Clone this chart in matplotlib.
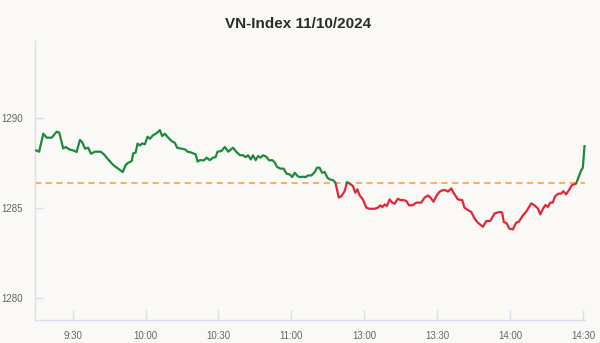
import numpy as np
import matplotlib
matplotlib.use('Agg')
import matplotlib.pyplot as plt
from matplotlib.patches import Rectangle

# session minutes since 9:15 (lunch 11:30-13:00 removed)
minutes = [0, 1.2, 2.9, 4.3, 6.4, 8.4, 9.5, 11.1, 12.1, 13.6, 15.9, 16.6,
           18.0, 18.9, 20.1, 21.4, 22.5, 24.2, 26.5, 27.9, 29.6, 31.7, 33.7,
           35.6, 36.8, 37.9, 39.3, 39.9, 40.9, 41.7, 42.7, 43.6, 44.7, 45.8,
           46.8, 48.1, 49.5, 50.9, 51.8, 52.9, 54.3, 55.7, 57.0, 58.0, 59.8,
           61.2, 62.3, 63.9, 65.6, 66.4, 67.3, 69.0, 70.1, 71.4, 72.8, 73.8,
           74.6, 76.2, 77.6, 79.0, 80.1, 81.0, 82.4, 83.8, 85.1, 86.2, 87.2,
           88.3, 89.2, 90.3, 91.3, 92.3, 93.3, 94.7, 95.8, 97.2, 98.2, 99.1,
           100.5, 101.8, 103.0, 104.3, 105.3, 106.4, 107.5, 108.4, 109.8,
           110.9, 111.8, 113.2, 114.6, 115.5, 116.6, 117.6, 118.7, 119.8,
           120.8, 122.1, 123.1, 124.5, 125.6, 126.9, 127.9, 129.0, 130.3,
           131.3, 132.1, 133.1, 134.4, 135.8, 137.2, 139.2, 140.6, 141.6,
           142.4, 143.4, 144.3, 145.4, 146.5, 147.5, 148.8, 149.9, 151.3,
           152.3, 153.4, 154.8, 156.4, 158.4, 159.8, 161.2, 162.2, 163.5,
           164.6, 166.0, 167.3, 168.7, 169.4, 170.8, 171.7, 173.5, 175.3,
           176.2, 177.6, 179.0, 180.4, 181.7, 183.8, 185.2, 186.8, 188.6,
           190.6, 191.7, 192.4, 193.5, 194.7, 196.1, 197.5, 198.6, 200.0,
           201.6, 203.7, 205.0, 206.4, 207.4, 208.4, 209.5, 210.5, 211.5,
           212.5, 213.5, 214.9, 216.0, 216.9, 218.0, 219.4, 220.5, 222.1,
           223.1, 224.2, 224.9, 225.6]
price = [1288.18, 1288.11, 1289.11, 1288.89, 1288.89, 1289.22, 1289.17,
         1288.29, 1288.37, 1288.24, 1288.15, 1288.09, 1288.76, 1288.64,
         1288.28, 1288.33, 1288.00, 1288.11, 1288.11, 1287.96, 1287.68,
         1287.37, 1287.17, 1286.98, 1287.37, 1287.50, 1287.59, 1288.02,
         1288.06, 1288.56, 1288.46, 1288.57, 1288.52, 1288.94, 1288.83,
         1289.03, 1289.13, 1289.31, 1288.98, 1289.11, 1288.89, 1288.70,
         1288.61, 1288.33, 1288.28, 1288.24, 1288.11, 1288.06, 1287.96,
         1287.56, 1287.64, 1287.63, 1287.78, 1287.64, 1287.78, 1287.81,
         1288.11, 1288.15, 1288.37, 1288.11, 1288.24, 1288.33, 1288.09,
         1287.92, 1287.91, 1287.81, 1287.91, 1287.68, 1287.91, 1287.64,
         1287.87, 1287.78, 1287.91, 1287.83, 1287.63, 1287.64, 1287.50,
         1287.26, 1287.17, 1287.17, 1286.89, 1286.85, 1286.70, 1286.94,
         1286.76, 1286.70, 1286.72, 1286.70, 1286.79, 1286.79, 1286.98,
         1287.22, 1287.22, 1286.94, 1286.98, 1286.67, 1286.57, 1286.53,
         1286.39, 1285.56, 1285.64, 1285.92, 1286.42, 1286.33, 1286.20,
         1285.83, 1286.02, 1285.68, 1285.46, 1285.00, 1284.94, 1284.94,
         1285.00, 1285.13, 1285.03, 1285.18, 1285.09, 1285.46, 1285.28,
         1285.22, 1285.50, 1285.42, 1285.42, 1285.37, 1285.13, 1285.13,
         1285.28, 1285.28, 1285.56, 1285.68, 1285.56, 1285.33, 1285.64,
         1285.89, 1285.98, 1285.96, 1285.89, 1286.07, 1285.83, 1285.46,
         1285.42, 1285.00, 1284.87, 1284.76, 1284.39, 1284.17, 1283.94,
         1284.26, 1284.26, 1284.68, 1284.76, 1284.74, 1284.20, 1284.15,
         1283.83, 1283.79, 1284.17, 1284.22, 1284.53, 1284.78, 1285.24,
         1285.13, 1284.96, 1284.63, 1284.91, 1285.15, 1285.04, 1285.28,
         1285.28, 1285.64, 1285.78, 1285.78, 1285.92, 1285.74, 1286.02,
         1286.26, 1286.33, 1286.67, 1287.07, 1287.22, 1288.42]
ref_price = 1286.39

tick_pos = [15, 45, 75, 105, 135, 165, 195, 225]
tick_labels = ['9:30', '10:00', '10:30', '11:00', '13:00', '13:30', '14:00', '14:30']
y_ticks = [1280, 1285, 1290]

BG = '#faf9f6'
AXIS = '#d9dfef'
GREEN = '#1b8a3c'
RED = '#e2263a'
ORANGE = '#f39c3c'

plt.rcParams['font.family'] = ['Liberation Sans', 'DejaVu Sans']

fig = plt.figure(figsize=(6, 3.43), dpi=100)
fig.patch.set_facecolor(BG)
ax = fig.add_axes([35/600, 23/343, 550/600, 279/343])
ax.set_facecolor(BG)

x_lo, x_hi = -0.5, 225.8
y_lo, y_hi = 1278.76, 1294.26
ax.set_xlim(x_lo, x_hi)
ax.set_ylim(y_lo, y_hi)

# reference (previous close)
ax.axhline(ref_price, color=ORANGE, linewidth=1.1, linestyle=(0, (4, 3)), zorder=2)

# green above reference, red below (same line clipped twice)
above = Rectangle((x_lo, ref_price), x_hi - x_lo + 5, y_hi - ref_price + 5,
                  transform=ax.transData)
below = Rectangle((x_lo, y_lo - 5), x_hi - x_lo + 5, ref_price - y_lo + 5,
                  transform=ax.transData)
l1, = ax.plot(minutes, price, color=GREEN, linewidth=1.6, zorder=3,
              solid_joinstyle='round', clip_on=True)
l1.set_clip_path(above)
l2, = ax.plot(minutes, price, color=RED, linewidth=1.6, zorder=3,
              solid_joinstyle='round', clip_on=True)
l2.set_clip_path(below)

for side in ['top', 'right']:
    ax.spines[side].set_visible(False)
for side in ['left', 'bottom']:
    ax.spines[side].set_color(AXIS)
    ax.spines[side].set_linewidth(1)

ax.set_xticks(tick_pos)
ax.set_xticklabels(tick_labels)
ax.set_yticks(y_ticks)
ax.tick_params(axis='x', direction='in', length=7.5, width=1, color=AXIS,
               labelcolor='#666666', labelsize=7, pad=8)
ax.tick_params(axis='y', direction='in', length=6, width=1, color=AXIS,
               labelcolor='#666666', labelsize=7, pad=8.5)

fig.suptitle('VN-Index 11/10/2024', x=0.497, y=0.95, fontsize=11,
             fontweight='bold', color='#2b2b2b')

fig.savefig('out.png', dpi=100, facecolor=BG)
